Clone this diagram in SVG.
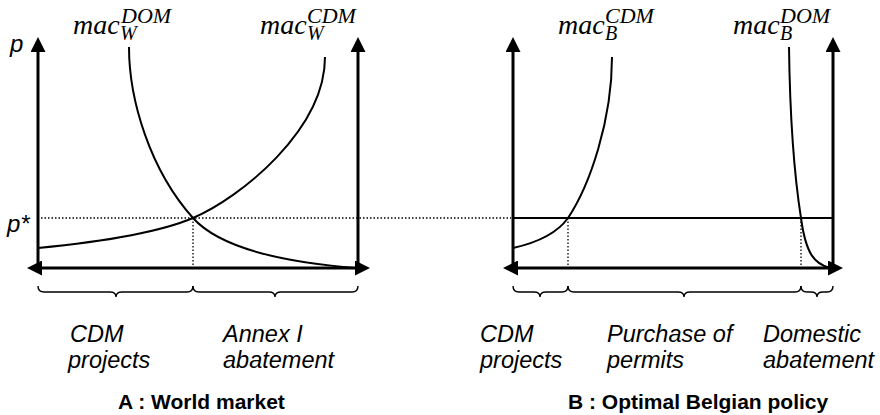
<svg xmlns="http://www.w3.org/2000/svg" width="880" height="415" viewBox="0 0 880 415">
<style>
.axis{stroke:#000;stroke-width:3;fill:none}
.curve{stroke:#000;stroke-width:2;fill:none}
.dot{stroke:#000;stroke-width:1.3;stroke-dasharray:1.5 2;fill:none}
.brace{stroke:#000;stroke-width:1.4;fill:none}
.lbl{font-family:"Liberation Sans",Arial,sans-serif;font-style:italic;font-size:23.5px;fill:#000}
.ax{font-family:"Liberation Sans",Arial,sans-serif;font-style:italic;font-size:24px;fill:#000}
.ttl{font-family:"Liberation Sans",Arial,sans-serif;font-weight:bold;font-size:21px;fill:#000}
.m{font-family:"Liberation Serif","Times New Roman",serif;font-style:italic;font-size:28px;fill:#000}
.sub{font-size:20px}
.sup{font-size:22px}
</style>
<defs>
<marker id="arr" viewBox="0 0 15 15" refX="0" refY="7.5" markerWidth="15" markerHeight="15" markerUnits="userSpaceOnUse" orient="auto-start-reverse">
<polygon points="0,0 15,7.5 0,15" fill="#000"/>
</marker>
</defs>

<g id="connectors">
<!-- Panel A axes -->
<line class="axis" x1="38" y1="268" x2="38" y2="52" marker-end="url(#arr)"/>
<line class="axis" x1="358" y1="268" x2="358" y2="52" marker-end="url(#arr)"/>
<line class="axis" x1="42" y1="268" x2="355" y2="268" marker-start="url(#arr)" marker-end="url(#arr)"/>
<!-- Panel B axes -->
<line class="axis" x1="513" y1="268" x2="513" y2="52" marker-end="url(#arr)"/>
<line class="axis" x1="833" y1="268" x2="833" y2="52" marker-end="url(#arr)"/>
<line class="axis" x1="518" y1="268" x2="828" y2="268" marker-start="url(#arr)" marker-end="url(#arr)"/>
<!-- dotted guides -->
<line class="dot" x1="41" y1="218" x2="511" y2="218"/>
<line class="dot" x1="193" y1="218" x2="193" y2="266"/>
<line class="dot" x1="568" y1="218" x2="568" y2="266"/>
<line class="dot" x1="801" y1="218" x2="801" y2="266"/>
<!-- price line in B -->
<line class="curve" x1="513" y1="218" x2="833" y2="218"/>
<!-- curves -->
<path id="macWDOM" class="curve" d="M129,47 C129,100 150,170 193,218 C220,248 280,262 356,268"/>
<path id="macWCDM" class="curve" d="M38,248 C100,242 160,232 193,218 C240,198 325,130 325,57"/>
<path id="macBCDM" class="curve" d="M513,248 C540,242 558,232 568,218 C590,185 612,120 612,57"/>
<path id="macBDOM" class="curve" d="M789,47 C790,120 795,180 801,218 C806,255 815,264 830,268"/>
<!-- braces -->
<path class="brace" d="M38,286 q0,6 6,6 h66 q6,0 6,5 q0,-5 6,-5 h65 q6,0 6,-6"/>
<path class="brace" d="M193,286 q0,6 6,6 h70 q6,0 6,5 q0,-5 6,-5 h71 q6,0 6,-6"/>
<path class="brace" d="M513,286 q0,6 6,6 h15 q6,0 6,5 q0,-5 6,-5 h16 q6,0 6,-6"/>
<path class="brace" d="M568,286 q0,6 6,6 h104 q6,0 6,5 q0,-5 6,-5 h105 q6,0 6,-6"/>
<path class="brace" d="M801,286 q0,6 6,6 h4 q6,0 6,5 q0,-5 6,-5 h4 q6,0 6,-6"/>
</g>

<g id="axis-labels">
<text class="ax" x="10" y="52">p</text>
<text class="ax" x="7" y="232">p*</text>
</g>

<g id="label-macWDOM">
<text class="m" x="73" y="34">mac<tspan class="sub" x="120" y="40">W</tspan><tspan class="sup" x="121" y="23">DOM</tspan></text>
</g>
<g id="label-macWCDM">
<text class="m" x="260" y="34">mac<tspan class="sub" x="307" y="40">W</tspan><tspan class="sup" x="307" y="23">CDM</tspan></text>
</g>
<g id="label-macBCDM">
<text class="m" x="558" y="34">mac<tspan class="sub" x="605" y="40">B</tspan><tspan class="sup" x="605" y="23">CDM</tspan></text>
</g>
<g id="label-macBDOM">
<text class="m" x="733" y="34">mac<tspan class="sub" x="780" y="40">B</tspan><tspan class="sup" x="780" y="23">DOM</tspan></text>
</g>

<g id="panelA-labels">
<text class="lbl" x="70" y="342">CDM</text>
<text class="lbl" x="68" y="368">projects</text>
<text class="lbl" x="223" y="342">Annex I</text>
<text class="lbl" x="223" y="368">abatement</text>
<text class="ttl" x="118" y="409">A : World market</text>
</g>
<g id="panelB-labels">
<text class="lbl" x="480" y="342">CDM</text>
<text class="lbl" x="480" y="368">projects</text>
<text class="lbl" x="607" y="342">Purchase of</text>
<text class="lbl" x="607" y="368">permits</text>
<text class="lbl" x="763" y="342">Domestic</text>
<text class="lbl" x="763" y="368">abatement</text>
<text class="ttl" x="568" y="409">B : Optimal Belgian policy</text>
</g>
</svg>
